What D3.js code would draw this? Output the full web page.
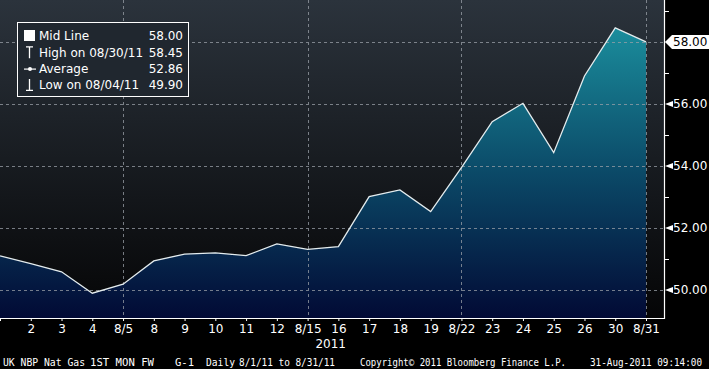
<!DOCTYPE html>
<html>
<head>
<meta charset="utf-8">
<script src="https://cdn.jsdelivr.net/npm/d3@7"></script>
<style>
  body { margin: 0; background: #000; }
  svg { display: block; }
  .tickTxt { font-family: "DejaVu Sans", sans-serif; font-size: 12px; fill: #fff; }
  .foot { font-family: "DejaVu Sans Mono", monospace; font-size: 10px; fill: #fff; }
</style>
</head>
<body>
<div id="chart"></div>
<script>
// UK NBP Nat Gas 1ST MON FW, daily, Aug 2011
var dates = ["8/1","2","3","4","8/5","8","9","10","11","12","8/15","16","17","18","19","8/22","23","24","25","26","30","8/31"];
var prices = [51.10,50.85,50.59,49.90,50.19,50.94,51.16,51.20,51.11,51.49,51.31,51.40,53.01,53.23,52.53,53.95,55.43,56.02,54.43,56.90,58.45,58.00];
var gridDates = ["8/5","8/15","8/22","8/31"];
var yTicks = [50,52,54,56,58];
var yMinor = [51,53,55,57,59];
var legendRows = [
    { sym: "square", label: "Mid Line", value: "58.00" },
    { sym: "high", label: "High on 08/30/11", value: "58.45" },
    { sym: "avg", label: "Average", value: "52.86" },
    { sym: "low", label: "Low on 08/04/11", value: "49.90" }
];

var W = 709, H = 369;
var plotW = 664, plotH = 318;

var svg = d3.select("#chart").append("svg")
    .attr("width", W).attr("height", H);

var defs = svg.append("defs");
var bg = defs.append("linearGradient").attr("id", "bgGrad")
    .attr("gradientUnits", "userSpaceOnUse")
    .attr("x1", 0).attr("y1", 0).attr("x2", 0).attr("y2", plotH);
bg.append("stop").attr("offset", "0%").attr("stop-color", "#2b333c");
bg.append("stop").attr("offset", "100%").attr("stop-color", "#050506");

var ag = defs.append("linearGradient").attr("id", "areaGrad")
    .attr("gradientUnits", "userSpaceOnUse")
    .attr("x1", 0).attr("y1", 25).attr("x2", 0).attr("y2", plotH);
ag.append("stop").attr("offset", "0%").attr("stop-color", "#1b8e9d");
ag.append("stop").attr("offset", "50%").attr("stop-color", "#0b4a68");
ag.append("stop").attr("offset", "100%").attr("stop-color", "#020a35");

var x = d3.scaleLinear().domain([0, dates.length - 1]).range([0, 646]);
var y = d3.scaleLinear().domain([49.1, 59.35]).range([plotH, 0]);

// plot background
svg.append("rect").attr("x", 0).attr("y", 0)
    .attr("width", plotW).attr("height", plotH)
    .attr("fill", "url(#bgGrad)");

// area + line
var area = d3.area()
    .x(function (d, i) { return x(i); })
    .y0(plotH)
    .y1(function (d) { return y(d); });
svg.append("path").datum(prices)
    .attr("fill", "url(#areaGrad)")
    .attr("d", area);

// grid lines
var grid = svg.append("g").attr("stroke", "#9aa0a8").attr("stroke-width", 1)
    .attr("stroke-dasharray", "3,3").attr("opacity", 0.75);
grid.selectAll(".hg").data(yTicks).enter().append("line")
    .attr("x1", 0).attr("x2", plotW)
    .attr("y1", function (d) { return Math.round(y(d)) + 0.5; })
    .attr("y2", function (d) { return Math.round(y(d)) + 0.5; });
grid.selectAll(".vg").data(gridDates).enter().append("line")
    .attr("x1", function (d) { return Math.round(x(dates.indexOf(d))) + 0.5; })
    .attr("x2", function (d) { return Math.round(x(dates.indexOf(d))) + 0.5; })
    .attr("y1", 0).attr("y2", plotH);

var line = d3.line()
    .x(function (d, i) { return x(i); })
    .y(function (d) { return y(d); });
svg.append("path").datum(prices)
    .attr("fill", "none")
    .attr("stroke", "#e4ecee")
    .attr("stroke-width", 1.3)
    .attr("d", line);

// legend
var lg = svg.append("g").attr("transform", "translate(17,22)");
lg.append("rect").attr("x", 0.5).attr("y", 0.5).attr("width", 171).attr("height", 74)
    .attr("fill", "#20272f")
    .attr("stroke", "#fff").attr("stroke-width", 1);
var rows = lg.selectAll(".row").data(legendRows).enter().append("g")
    .attr("transform", function (d, i) { return "translate(0," + (14 + i * 16.3) + ")"; });
rows.append("text").attr("class", "tickTxt").attr("x", 22).attr("dy", "0.35em")
    .text(function (d) { return d.label; });
rows.append("text").attr("class", "tickTxt").attr("x", 166).attr("dy", "0.35em")
    .attr("text-anchor", "end").text(function (d) { return d.value; });
rows.each(function (d) {
    var g = d3.select(this);
    if (d.sym === "square") {
        g.append("rect").attr("x", 7).attr("y", -6).attr("width", 11).attr("height", 11).attr("fill", "#fff");
    } else if (d.sym === "high") {
        g.append("path").attr("d", "M9,-5.5H16M12.5,-5.5V6").attr("stroke", "#fff").attr("stroke-width", 1.3).attr("fill", "none");
    } else if (d.sym === "avg") {
        g.append("path").attr("d", "M7,0.5H19").attr("stroke", "#fff").attr("stroke-width", 1.2);
        g.append("circle").attr("cx", 13).attr("cy", 0.5).attr("r", 2).attr("fill", "#fff");
    } else {
        g.append("path").attr("d", "M12.5,-6V5.5M9,5.5H16").attr("stroke", "#fff").attr("stroke-width", 1.3).attr("fill", "none");
    }
});

// axis frame
svg.append("line").attr("x1", plotW + 0.5).attr("x2", plotW + 0.5).attr("y1", 0).attr("y2", plotH + 1)
    .attr("stroke", "#fff").attr("stroke-width", 1.2);
svg.append("line").attr("x1", 0).attr("x2", plotW + 1).attr("y1", plotH + 0.5).attr("y2", plotH + 0.5)
    .attr("stroke", "#fff").attr("stroke-width", 1.2);

// right axis
var ra = svg.append("g");
ra.selectAll(".minor").data(yMinor).enter().append("line")
    .attr("x1", plotW).attr("x2", plotW + 5)
    .attr("y1", function (d) { return Math.round(y(d)) + 0.5; })
    .attr("y2", function (d) { return Math.round(y(d)) + 0.5; })
    .attr("stroke", "#fff");
var major = ra.selectAll(".major").data(yTicks).enter().append("g")
    .attr("transform", function (d) { return "translate(" + plotW + "," + Math.round(y(d)) + ")"; });
major.append("path").attr("d", "M1,0L9,-3V3Z").attr("fill", "#fff");
major.append("text").attr("class", "tickTxt").attr("x", 9).attr("dy", "0.36em")
    .text(function (d) { return d3.format(".2f")(d); });

// last value marker
var last = prices[prices.length - 1];
var lm = svg.append("g").attr("transform", "translate(" + plotW + "," + y(last) + ")");
lm.append("path").attr("d", "M1,0L8,-7H45V7H8Z").attr("fill", "#fff");
lm.append("text").attr("class", "tickTxt").attr("x", 9).attr("dy", "0.36em")
    .style("fill", "#000").text(d3.format(".2f")(last));

// bottom axis
var xAxis = d3.axisBottom(x)
    .tickValues(d3.range(dates.length))
    .tickSize(3)
    .tickFormat(function (i) { return i === 0 ? "" : dates[i]; });
var xg = svg.append("g").attr("transform", "translate(0," + plotH + ")").call(xAxis);
xg.select(".domain").remove();
xg.selectAll(".tick line").attr("stroke", "#fff");
xg.selectAll(".tick text").attr("class", "tickTxt").attr("fill", "#fff").attr("y", 6);

svg.append("text").attr("class", "tickTxt").attr("x", 346).attr("y", 348)
    .attr("text-anchor", "end").text("2011");

// footer
var foot = [
    { t: "UK NBP Nat Gas", x: 3, w: 82 },
    { t: "1ST MON FW", x: 90, w: 64 },
    { t: "G-1", x: 175, w: 19 },
    { t: "Daily", x: 206, w: 29 },
    { t: "8/1/11 to 8/31/11", x: 239, w: 96 },
    { t: "Copyright\u00a9 2011 Bloomberg Finance L.P.", x: 360, w: 206 },
    { t: "31-Aug-2011 09:14:00", x: 590, w: 112 }
];
svg.selectAll(".foot").data(foot).enter().append("text")
    .attr("class", "foot")
    .attr("x", function (d) { return d.x; })
    .attr("y", 366)
    .attr("textLength", function (d) { return d.w; })
    .attr("lengthAdjust", "spacingAndGlyphs")
    .text(function (d) { return d.t; });
</script>
</body>
</html>
